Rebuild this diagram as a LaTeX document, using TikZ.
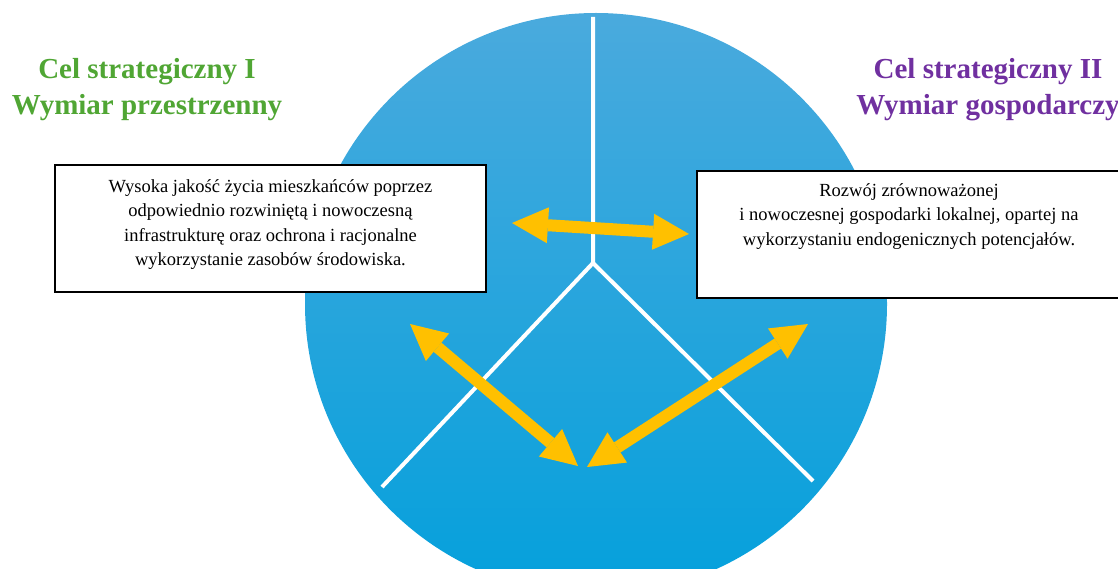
\documentclass[tikz,border=0pt]{standalone}
\usepackage{fontspec}
\setmainfont{Liberation Serif}
\usetikzlibrary{arrows.meta, positioning}
\definecolor{discTop}{RGB}{74,170,221}
\definecolor{discBottom}{RGB}{4,160,220}
\definecolor{linkGold}{RGB}{255,192,0}
\definecolor{titleGreen}{RGB}{80,166,52}
\definecolor{titlePurple}{RGB}{112,48,160}
\tikzset{
x=1pt, y=-1pt, % one unit is one pixel of the layout, y grows downwards
goalbox/.style={draw=black, line width=2pt, fill=white, inner sep=0pt}, % frames round the goals
goaltext/.style={align=center, inner sep=0pt, font=\fontsize{18.5}{24.5}\selectfont}, % text inside the frames
title/.style={align=center, inner sep=0pt, anchor=north, font=\fontsize{29}{36}\selectfont\bfseries}, % headings
divider/.style={white, line width=4pt}, % lines splitting the disc
link/.style={linkGold, line width=12pt,
  {Triangle[length=36pt, width=36pt, line width=0pt]}-{Triangle[length=36pt, width=36pt, line width=0pt]}}, % yellow double arrows
}

\begin{document}
\begin{tikzpicture}
  \useasboundingbox (0,0) rectangle (1118,569);
  \clip (0,0) rectangle (1118,569);

  \shade[top color=discTop, bottom color=discBottom] (596,304) circle[radius=291pt];

  \coordinate (hub) at (593,263);
  \coordinate (rimTop) at (593,17);
  \coordinate (rimLeft) at (382,487);
  \coordinate (rimRight) at (813,481);
  \draw[divider] (rimTop) -- (hub) -- (rimLeft);
  \draw[divider] (hub) -- (rimRight);

  \node[title, text=titleGreen] (goalOneTitle) at (147,58) {Cel strategiczny I\\Wymiar przestrzenny};
  \node[title, text=titlePurple] (goalTwoTitle) at (988,58) {Cel strategiczny II\\Wymiar gospodarczy};

  \node[goalbox, minimum width=431pt, minimum height=127pt] (goalOne) at (270.5,228.5) {};
  \node[goaltext, below=15pt of goalOne.north] (goalOneText)
    {Wysoka jakość życia mieszkańców poprzez\\odpowiednio rozwiniętą i nowoczesną\\infrastrukturę oraz ochrona i racjonalne\\wykorzystanie zasobów środowiska.};
  \node[goalbox, minimum width=424pt, minimum height=127pt] (goalTwo) at (909,234.5) {};
  \node[goaltext, below=13pt of goalTwo.north] (goalTwoText)
    {Rozwój zrównoważonej\\i nowoczesnej gospodarki lokalnej, opartej na\\wykorzystaniu endogenicznych potencjałów.};

  \coordinate (topLeftEnd) at (512,223);
  \coordinate (topRightEnd) at (689,234);
  \coordinate (lowLeftEnd) at (410,324);
  \coordinate (lowLeftTip) at (578,466);
  \coordinate (lowRightEnd) at (808,324);
  \coordinate (lowRightTip) at (587,467);
  \draw[link] (topLeftEnd) -- (topRightEnd);
  \draw[link] (lowLeftEnd) -- (lowLeftTip);
  \draw[link] (lowRightEnd) -- (lowRightTip);
\end{tikzpicture}
\end{document}
